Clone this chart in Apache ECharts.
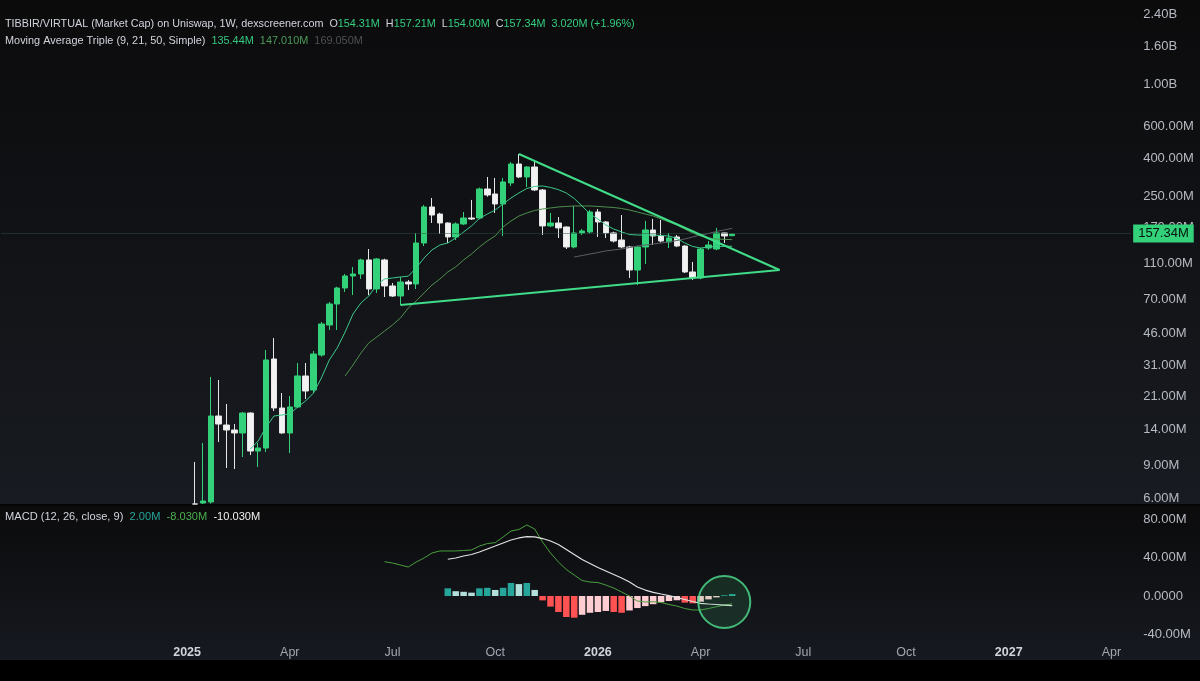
<!DOCTYPE html>
<html><head><meta charset="utf-8">
<script src="https://cdn.jsdelivr.net/npm/echarts@6/dist/echarts.min.js"></script>
<style>html,body{margin:0;padding:0;background:#000;}#c{width:1200px;height:681px;}</style>
</head><body><div id="c"></div>
<script>
// ---- axis / category setup ----
const firstCategoryWeek = '2024-07-22';
const categoryCount = 143;
const firstCandleWeek = '2025-01-06';
// x tick labels: [week, label, isYear]
const xTicks = [
  ['2024-12-30','2025',1],['2025-03-31','Apr',0],['2025-06-30','Jul',0],['2025-09-29','Oct',0],
  ['2025-12-29','2026',1],['2026-03-30','Apr',0],['2026-06-29','Jul',0],['2026-09-28','Oct',0],
  ['2026-12-28','2027',1],['2027-03-29','Apr',0]
];
const priceTicks = [6, 9, 14, 21, 31, 46, 70, 110, 170, 250, 400, 600, 1000, 1600, 2400]; // millions
const priceMin = 5.57, priceMax = 2855; // millions
const macdTicks = [80, 40, 0, -40];
const macdMin = -43.6, macdMax = 93.5;

// ---- weekly candles [open, high, low, close] in millions ----
const candles = [
[4.5, 9.37, 4.0, 5.3],
[5.64, 11.85, 5.2, 5.78],
[5.71, 26.84, 5.6, 16.56],
[16.56, 25.86, 12.0, 14.99],
[14.81, 19.21, 8.70, 13.92],
[13.92, 14.99, 8.59, 13.42],
[13.42, 17.40, 9.96, 17.18],
[17.18, 17.30, 10.21, 10.73],
[10.73, 11.85, 8.81, 11.14],
[11.14, 37.49, 10.60, 33.13],
[33.54, 43.49, 17.61, 18.28],
[18.28, 22.01, 13.30, 13.42],
[13.42, 21.21, 10.47, 18.51],
[18.51, 31.92, 18.30, 27.18],
[27.18, 31.90, 20.44, 22.56],
[22.85, 37.03, 22.00, 35.67],
[35.23, 53.01, 34.50, 51.72],
[51.07, 67.91, 48.02, 66.25],
[66.25, 82.0, 48.0, 80.77],
[80.77, 96.05, 76.86, 93.72],
[93.72, 104.8, 74.04, 96.05],
[96.05, 116.0, 90.3, 114.3],
[114.3, 130.9, 74.04, 79.78],
[79.78, 117.1, 75.92, 115.7],
[114.3, 116.0, 72.25, 82.80],
[82.80, 85.93, 72.25, 73.15],
[73.15, 92.56, 65.42, 87.0],
[87.0, 89.1, 78.8, 84.87],
[84.87, 159.6, 79.78, 141.0],
[141.0, 225.7, 135.8, 220.2],
[220.2, 246.1, 180.6, 199.3],
[201.8, 205.0, 157.6, 180.6],
[180.6, 182.0, 141.0, 151.9],
[151.9, 182.0, 146.3, 178.4],
[178.4, 206.9, 176.0, 192.1],
[192.1, 240.2, 187.4, 189.7],
[192.1, 280.0, 189.0, 275.1],
[275.1, 319.2, 250.0, 255.4],
[258.6, 315.3, 204.4, 228.5],
[228.5, 315.3, 153.8, 300.1],
[296.4, 384.3, 285.6, 374.9],
[374.9, 424.4, 315.0, 319.2],
[319.2, 365.0, 282.1, 361.3],
[361.3, 384.3, 268.0, 271.7],
[271.7, 275.0, 155.6, 174.1],
[174.1, 204.4, 171.9, 180.6],
[180.6, 194.5, 150.0, 169.8],
[171.9, 173.0, 130.9, 134.2],
[134.2, 222.9, 132.0, 159.6],
[159.6, 167.6, 155.6, 163.6],
[161.6, 212.1, 158.0, 206.9],
[206.9, 214.7, 151.9, 182.9],
[182.9, 185.0, 150.0, 159.6],
[159.6, 162.0, 142.0, 144.5],
[146.3, 199.3, 132.0, 134.2],
[134.2, 136.0, 91.42, 100.9],
[100.9, 136.0, 83.81, 134.2],
[134.2, 185.2, 108.7, 165.6],
[165.6, 189.7, 137.5, 153.8],
[153.8, 187.4, 142.0, 144.5],
[142.7, 159.6, 132.5, 150.0],
[151.9, 155.6, 134.0, 135.8],
[135.8, 137.0, 97.2, 98.47],
[98.47, 111.5, 89.19, 91.42],
[91.42, 132.5, 90.0, 130.9],
[132.5, 144.5, 129.3, 137.5],
[130.9, 169.8, 129.0, 159.6],
[159.6, 160.0, 141.0, 153.8],
[154.31, 157.21, 154.00, 157.34]
];

// ---- moving averages (millions), start = candle index of first value ----
const ma9Start = 7;
const ma9 = [11.0,12.15,14.45,16.56,16.76,17.0,18.51,19.94,22.01,26.51,33.13,38.43,46.84,58.53,67.08,73.15,83.81,90.3,91.42,92.56,93.5,103.5,117.1,129.3,137.5,141.0,150.0,161.6,174.1,190.9,201.8,212.1,228.5,246.1,261.8,276.9,283.9,285.6,280.4,272.9,261.8,244.6,222.9,201.8,189.7,176.2,167.6,161.6,156.6,155.6,155.6,155.6,154.6,153.8,149.1,141.0,135.0,132.5,134.2,135.0,135.3,135.44];
const ma21Start = 19;
const ma21 = [27.18,31.13,36.1,40.9,44.0,47.4,51.07,55.71,63.05,68.8,75.92,83.81,90.3,98.47,104.8,114.3,123.0,134.2,144.5,153.8,171.9,185.2,196.9,204.4,211.0,214.8,217.5,220.2,221.6,222.9,222.9,222.9,221.6,220.2,218.8,216.1,212.1,206.9,201.8,196.9,189.7,182.9,176.2,167.6,159.6,153.8,150.0,148.1,147.4,147.01];
const ma50Start = 48;
const ma50 = [118.6,120.7,123.0,125.3,127.8,129.3,130.9,133.3,135.8,137.5,139.2,141.0,142.7,145.4,148.1,151.9,155.6,158.6,162.6,165.6,169.05];

// ---- MACD (millions) ----
const macdStart = 24;
const macdLine = [35.6,34.3,32.2,30.1,35.3,39.5,44.7,46.8,46.8,46.8,47.3,47.8,51.9,54.5,55.4,61.3,67.5,69.1,73.8,69.6,56.0,44.7,35.3,27.5,21.8,16.1,14.5,14.0,11.4,8.3,4.2,0.0,-5.2,-6.2,-5.9,-6.8,-8.8,-10.4,-13.0,-14.5,-14.5,-13.0,-11.1,-9.4,-8.03];
const signalStart = 32;
const signalLine = [38.2,39.5,41.6,43.1,45.7,48.8,51.9,55.1,58.2,60.3,61.6,61.5,59.7,57.1,53.5,48.3,43.1,37.9,33.8,29.6,26.0,22.3,18.7,14.5,9.4,6.2,3.8,2.1,0.5,-1.6,-3.6,-5.7,-7.6,-8.3,-8.8,-9.4,-10.03];
const histStart = 32;
const histValues = [8.0,5.0,4.4,3.5,8.0,8.5,6.3,8.5,13.5,12.4,13.5,6.3,-4.5,-11.0,-16.6,-21.8,-22.5,-19.5,-17.4,-16.6,-15.5,-16.6,-17.4,-15.0,-12.5,-10.5,-8.5,-6.5,-5.2,-4.4,-6.9,-7.6,-5.9,-3.5,-1.4,0.8,2.0];

// ---- drawings: [candle index, value in millions] ----
const upperTrend = [[41, 424.4], [74, 100.9]];
const lowerTrend = [[26, 65.42], [74, 100.9]];
const circleMark = [67, -6.2];
const lastPrice = 157.34;

// ---- header texts ----
const headerTitle = 'TIBBIR/VIRTUAL (Market Cap) on Uniswap, 1W, dexscreener.com';
const headerOHLC = [['O','154.31M'],['H','157.21M'],['L','154.00M'],['C','157.34M']];
const headerChange = '3.020M (+1.96%)';
const maTitle = 'Moving Average Triple (9, 21, 50, Simple)';
const maValues = ['135.44M','147.010M','169.050M'];
const macdTitle = 'MACD (12, 26, close, 9)';
const macdValues = ['2.00M','-8.030M','-10.030M'];

// ================= build =================
const weeks = [];
const d0 = Date.parse(firstCategoryWeek + 'T00:00:00Z');
for (let k = 0; k < categoryCount; k++) weeks.push(new Date(d0 + k * 7 * 864e5).toISOString().slice(0, 10));
const off = weeks.indexOf(firstCandleWeek);
const lg = v => Math.log10(v * 1e6);
const yLo = lg(priceMin), yHi = lg(priceMax);
// candle parts outside the pane are cut at the pane edge (like the pane clipping)
const lgClip = v => Math.min(yHi, Math.max(yLo, lg(v)));
const empty = () => weeks.map(() => '-');

const candleData = weeks.map(() => ['-','-','-','-']);
candles.forEach((c, i) => { candleData[off + i] = [lgClip(c[0]), lgClip(c[3]), lgClip(c[2]), lgClip(c[1])]; });
function lineFrom(start, arr, tf) { const d = empty(); arr.forEach((v, i) => { d[off + start + i] = tf ? tf(v) : v; }); return d; }
const histData = empty();
histValues.forEach((h, i) => {
  const p = i > 0 ? histValues[i - 1] : -Infinity;
  const col = h >= 0 ? (h > p ? '#26A69A' : '#B2DFDB') : (h < p ? '#FF5252' : '#FFCDD2');
  histData[off + histStart + i] = { value: h, itemStyle: { color: col } };
});
const tickMap = {}; xTicks.forEach(t => { tickMap[t[0]] = t; });
const fmtPrice = v => { const x = Math.pow(10, v); return x >= 1e9 ? (x / 1e9).toFixed(2) + 'B' : (x / 1e6).toFixed(2) + 'M'; };

const FONT = 'Liberation Sans, Arial, sans-serif';
const GL = 1.45, GW = 1129.7;
const chart = echarts.init(document.getElementById('c'), null, { renderer: 'canvas' });

const grad = (a, b) => new echarts.graphic.LinearGradient(0, 0, 0, 1, [{ offset: 0, color: a }, { offset: 1, color: b }]);
const rs = (c, s) => ({ color: c, fontSize: s, fontFamily: FONT, fontWeight: 'normal' });

chart.setOption({
  animation: false,
  backgroundColor: '#000',
  textStyle: { fontFamily: FONT },
  graphic: [
    { type: 'rect', z: -10, silent: true, shape: { x: 0, y: 0, width: 1200, height: 504 }, style: { fill: grad('#0b0b0c', '#181b21') } },
    { type: 'rect', z: -10, silent: true, shape: { x: 0, y: 504, width: 1200, height: 2 }, style: { fill: '#050505' } },
    { type: 'rect', z: -10, silent: true, shape: { x: 0, y: 506, width: 1200, height: 154 }, style: { fill: grad('#0b0b0c', '#161920') } },
    { type: 'rect', z: -10, silent: true, shape: { x: 0, y: 660, width: 1200, height: 21 }, style: { fill: '#000' } }
  ],
  title: [
    { left: 5, top: 19, padding: 0, text:
        '{t|' + headerTitle + '}  ' + headerOHLC.map(p => '{k|' + p[0] + '}{v|' + p[1] + '}').join('  ') + '  {v|' + headerChange + '}',
      textStyle: { fontSize: 10.8, fontFamily: FONT, fontWeight: 'normal', rich: { t: rs('#d1d4dc', 10.8), k: rs('#d1d4dc', 10.8), v: rs('#34cf80', 10.8) } } },
    { left: 5, top: 35, padding: 0, text:
        '{t|' + maTitle + '}  {a|' + maValues[0] + '}  {b|' + maValues[1] + '}  {c|' + maValues[2] + '}',
      textStyle: { fontSize: 10.9, fontFamily: FONT, fontWeight: 'normal', rich: { t: rs('#d1d4dc', 10.9), a: rs('#36c97e', 10.9), b: rs('#4e9a58', 10.9), c: rs('#4d5055', 10.9) } } },
    { left: 5, top: 511, padding: 0, text:
        '{t|' + macdTitle + '}  {a|' + macdValues[0] + '}  {b|' + macdValues[1] + '}  {c|' + macdValues[2] + '}',
      textStyle: { fontSize: 11.1, fontFamily: FONT, fontWeight: 'normal', rich: { t: rs('#d1d4dc', 11.1), a: rs('#26a69a', 11.1), b: rs('#4caf50', 11.1), c: rs('#f0f0f0', 11.1) } } }
  ],
  grid: [
    { left: GL, top: 0, width: GW, height: 504 },
    { left: GL, top: 506, width: GW, height: 132 }
  ],
  xAxis: [
    { type: 'category', gridIndex: 0, data: weeks, boundaryGap: true, show: false },
    { type: 'category', gridIndex: 1, data: weeks, boundaryGap: true,
      axisLine: { show: false }, axisTick: { show: false }, splitLine: { show: false },
      axisLabel: { margin: 8, interval: (i, v) => !!tickMap[v],
        formatter: v => tickMap[v] ? (tickMap[v][2] ? '{y|' + tickMap[v][1] + '}' : '{m|' + tickMap[v][1] + '}') : '',
        rich: { y: { color: '#d1d4dc', fontWeight: 'bold', fontSize: 12.5, fontFamily: FONT },
                m: { color: '#a3a6af', fontSize: 12.5, fontFamily: FONT } } } }
  ],
  yAxis: [
    { type: 'value', gridIndex: 0, position: 'right', min: yLo, max: yHi, scale: true,
      axisLine: { show: false }, axisTick: { show: false }, splitLine: { show: false },
      axisLabel: { customValues: priceTicks.map(lg), formatter: fmtPrice, color: '#b7bac2', fontSize: 13, margin: 12, fontFamily: FONT } },
    { type: 'value', gridIndex: 1, position: 'right', min: macdMin, max: macdMax,
      axisLine: { show: false }, axisTick: { show: false }, splitLine: { show: false },
      axisLabel: { customValues: macdTicks, formatter: v => v === 0 ? '0.0000' : v.toFixed(2) + 'M', color: '#b7bac2', fontSize: 13, margin: 12, fontFamily: FONT } }
  ],
  series: [
    { type: 'candlestick', xAxisIndex: 0, yAxisIndex: 0, data: candleData, barWidth: 6, z: 3, clip: true,
      itemStyle: { color: '#33d17a', color0: '#f2f2f2', borderColor: '#33d17a', borderColor0: '#e6e6e6', borderWidth: 1 },
      markLine: { silent: true, symbol: ['none', 'none'], animation: false,
        lineStyle: { color: '#2f4f46', type: 'dotted', width: 1 },
        label: { show: true, position: 'end', distance: 2, formatter: lastPrice.toFixed(2) + 'M',
          backgroundColor: '#33d17a', color: '#06140c', padding: [3, 5, 2, 5], fontSize: 13, fontFamily: FONT },
        data: [{ yAxis: lg(lastPrice) }] } },
    { type: 'line', xAxisIndex: 0, yAxisIndex: 0, data: lineFrom(ma50Start, ma50, lg), symbol: 'none', z: 4, clip: true,
      lineStyle: { color: '#5a5d63', width: 1 } },
    { type: 'line', xAxisIndex: 0, yAxisIndex: 0, data: lineFrom(ma21Start, ma21, lg), symbol: 'none', z: 4, clip: true,
      lineStyle: { color: '#4e8f4e', width: 1 } },
    { type: 'line', xAxisIndex: 0, yAxisIndex: 0, data: lineFrom(ma9Start, ma9, lg), symbol: 'none', z: 4, clip: true,
      lineStyle: { color: '#3cc98c', width: 1 } },
    { type: 'line', xAxisIndex: 0, yAxisIndex: 0, data: upperTrend.map(p => [off + p[0], lg(p[1])]), symbol: 'none', z: 6,
      lineStyle: { color: '#40dc88', width: 2 } },
    { type: 'line', xAxisIndex: 0, yAxisIndex: 0, data: lowerTrend.map(p => [off + p[0], lg(p[1])]), symbol: 'none', z: 6,
      lineStyle: { color: '#40dc88', width: 2 } },
    { type: 'bar', xAxisIndex: 1, yAxisIndex: 1, data: histData, barWidth: 6.5, z: 3 },
    { type: 'line', xAxisIndex: 1, yAxisIndex: 1, data: lineFrom(macdStart, macdLine), symbol: 'none', z: 4,
      lineStyle: { color: '#4a9e3f', width: 1 } },
    { type: 'line', xAxisIndex: 1, yAxisIndex: 1, data: lineFrom(signalStart, signalLine), symbol: 'none', z: 4,
      lineStyle: { color: '#e2e2e2', width: 1.2 } },
    { type: 'scatter', xAxisIndex: 1, yAxisIndex: 1, data: [[off + circleMark[0], circleMark[1]]], symbolSize: 52, z: 7, silent: true,
      itemStyle: { color: 'rgba(70,200,120,0.18)', borderColor: '#4fe08f', borderWidth: 2 } }
  ]
});
</script></body></html>
